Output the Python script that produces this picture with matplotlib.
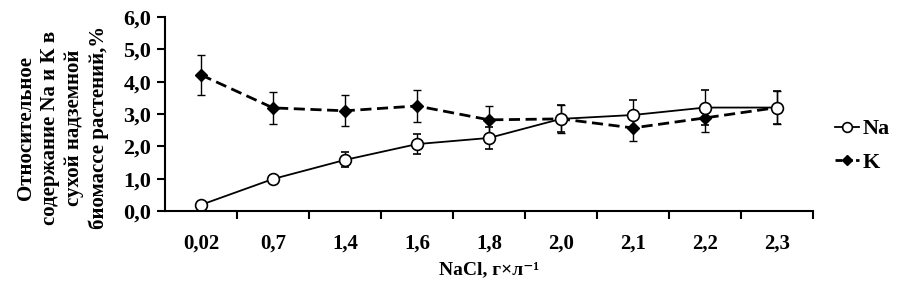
import numpy as np
import matplotlib
matplotlib.use("Agg")
import matplotlib.pyplot as plt
from matplotlib.lines import Line2D

plt.rcParams['font.family'] = ['Liberation Serif', 'DejaVu Serif']
plt.rcParams['font.weight'] = 'bold'

# data
nacl = ["0,02", "0,7", "1,4", "1,6", "1,8", "2,0", "2,1", "2,2", "2,3"]
na = [0.19, 0.99, 1.58, 2.07, 2.26, 2.85, 2.97, 3.20, 3.20]
na_err = [0.05, 0.08, 0.23, 0.32, 0.33, 0.42, 0.45, 0.53, 0.50]
k = [4.21, 3.19, 3.10, 3.25, 2.82, 2.85, 2.57, 2.88, 3.20]
k_err = [0.63, 0.50, 0.48, 0.50, 0.43, 0.43, 0.40, 0.43, 0.50]

x = np.arange(len(nacl))

fig = plt.figure(figsize=(9.13, 2.94), dpi=100)
ax = fig.add_axes([0.1807, 0.2823, 0.7098, 0.6597])

ax.errorbar(x, k, yerr=k_err, color='black', ls='--', lw=2, marker='D',
            ms=6, mfc='black', mec='black', ecolor='black', elinewidth=1,
            capsize=3, capthick=1, dashes=(4, 2))
ax.errorbar(x, na, yerr=na_err, color='black', ls='-', lw=1.3, marker='o',
            ms=8.5, mfc='white', mec='black', mew=1.2, ecolor='black',
            elinewidth=1, capsize=3, capthick=1)

ax.set_xlim(-0.5, len(nacl) - 0.5)
ax.set_ylim(0, 6)
yt = np.arange(0, 6.1, 1)
ax.set_yticks(yt)
ax.set_yticklabels([f"{v:.1f}".replace('.', ',') for v in yt])
ax.set_xticks(x)
ax.set_xticklabels(nacl)
ax.set_xticks(np.arange(0.5, len(nacl), 1), minor=True)
ax.tick_params(axis='x', which='major', length=0, pad=16, labelsize=15)
ax.tick_params(axis='x', which='minor', length=6, width=1.5, direction='out')
ax.tick_params(axis='y', length=6, width=1.5, direction='out', labelsize=16, pad=4)
for s in ['top', 'right']:
    ax.spines[s].set_visible(False)
for s in ['left', 'bottom']:
    ax.spines[s].set_linewidth(1.5)

ax.set_xlabel("NaCl, г×л⁻¹", fontsize=14, fontweight='bold', labelpad=6)
ax.set_ylabel("Относительное\nсодержание Na и К в\nсухой надземной\nбиомассе растений,%",
              fontsize=15, fontweight='bold', linespacing=1.28)
ax.yaxis.set_label_coords(-0.086, 0.43)

handles = [
    Line2D([], [], color='black', ls='-', lw=1.3, marker='o', ms=7,
           mfc='white', mec='black', mew=1.2),
    Line2D([], [], color='black', ls='--', lw=2, marker='D', ms=5,
           mfc='black', mec='black', dashes=(2.5, 1.2)),
]
ax.legend(handles, ['Na', 'K'], loc='center left', frameon=False, fontsize=16,
          handlelength=1.1, handletextpad=0.15, labelspacing=0.6,
          borderaxespad=0, bbox_to_anchor=(1.02, 0.335))

fig.savefig("out.png", dpi=100)
